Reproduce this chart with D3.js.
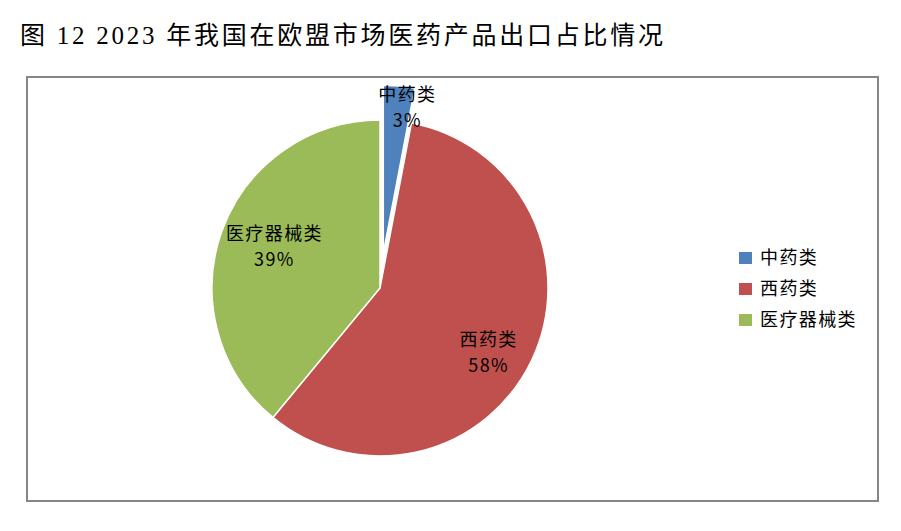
<!DOCTYPE html>
<html lang="zh">
<head>
<meta charset="UTF-8">
<title>2023年我国在欧盟市场医药产品出口占比情况</title>
<script src="https://d3js.org/d3.v7.min.js"></script>
<style>
  body { margin: 0; background: #fff; }
  svg { display: block; }
  .title { font-family: "Liberation Serif", "Noto Sans CJK SC", serif; font-size: 25px; fill: #000; }
  .lbl, .legend text { font-family: "Noto Sans CJK SC", sans-serif; font-size: 18px; fill: #000; letter-spacing: 1.4px; }
</style>
</head>
<body>
<svg width="901" height="531"></svg>
<script>
// 数据
const categories = ["中药类", "西药类", "医疗器械类"];
const shares = [3, 58, 39];
const colors = ["#4F81BD", "#C0504D", "#9BBB59"];
const exploded = [true, false, false];

const svg = d3.select("svg");

svg.append("text")
  .attr("class", "title")
  .attr("x", 20).attr("y", 44)
  .attr("textLength", 643).attr("lengthAdjust", "spacing")
  .text("图 12  2023 年我国在欧盟市场医药产品出口占比情况");

// 图表边框
svg.append("rect")
  .attr("x", 27).attr("y", 77)
  .attr("width", 851).attr("height", 424)
  .attr("fill", "none").attr("stroke", "#868686").attr("stroke-width", 2);

const cx = 380, cy = 288, r = 168, explode = 35;
const g = svg.append("g").attr("transform", `translate(${cx},${cy})`);

const pie = d3.pie().sort(null).value(d => d);
const arcs = pie(shares);
const arc = d3.arc().innerRadius(0).outerRadius(r);

function offset(d, i) {
  if (!exploded[i]) return [0, 0];
  const a = (d.startAngle + d.endAngle) / 2;
  return [explode * Math.sin(a), -explode * Math.cos(a)];
}

g.selectAll("path.slice")
  .data(arcs)
  .enter().append("path")
  .attr("class", "slice")
  .attr("transform", (d, i) => `translate(${offset(d, i)})`)
  .attr("d", arc)
  .attr("fill", (d, i) => colors[i])
  .attr("stroke", "#fff")
  .attr("stroke-width", 1.5);

// 数据标签 (大扇区靠内, 小扇区贴外缘), 放在最上层
const labels = g.append("g");
arcs.forEach((d, i) => {
  const span = d.endAngle - d.startAngle;
  const lr = span < 0.3 ? r * 0.905 : r * (0.575 + 0.045 * span);
  const a = (d.startAngle + d.endAngle) / 2 + 0.065;
  const [ox, oy] = offset(d, i);
  const x = ox + lr * Math.sin(a), y = oy - lr * Math.cos(a);
  const t = labels.append("text")
    .attr("class", "lbl")
    .attr("text-anchor", "middle")
    .attr("x", x).attr("y", y);
  t.append("tspan").attr("x", x).attr("dy", "-0.1em").text(categories[i]);
  t.append("tspan").attr("x", x).attr("dy", "1.42em").text(shares[i] + "%");
});

// 图例
const legend = svg.append("g").attr("class", "legend")
  .attr("transform", "translate(739,252)");
const rows = legend.selectAll("g")
  .data(categories)
  .enter().append("g")
  .attr("transform", (d, i) => `translate(0,${i * 31})`);
rows.append("rect")
  .attr("width", 13).attr("height", 12)
  .attr("fill", (d, i) => colors[i]);
rows.append("text")
  .attr("x", 21).attr("y", 6).attr("dy", "0.35em")
  .text(d => d);
</script>
</body>
</html>
